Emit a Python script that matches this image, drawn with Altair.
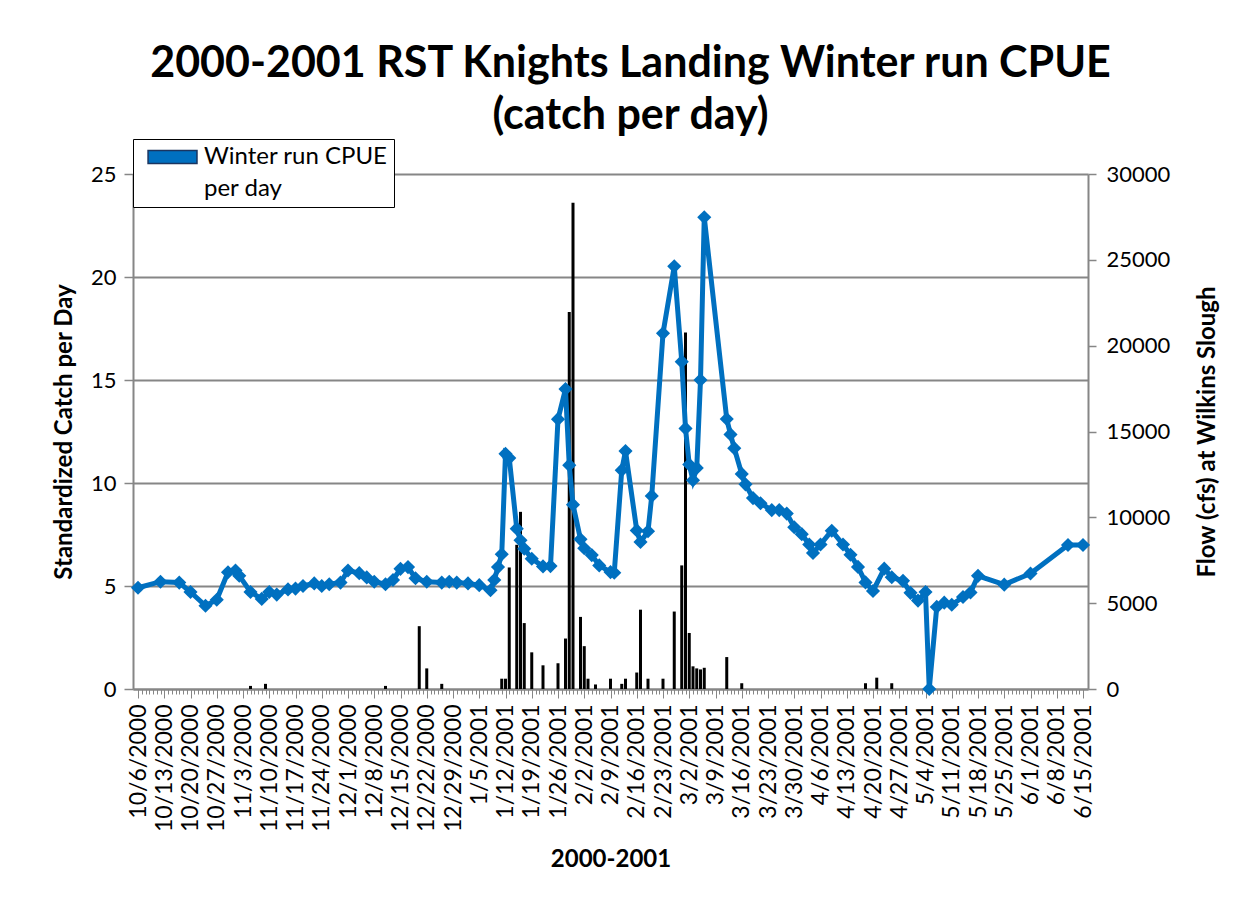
import json
import altair as alt
import pandas as pd

# ---------------- data ----------------
start_date = "10/6/2000"

tick_labels = [
    "10/6/2000", "10/13/2000", "10/20/2000", "10/27/2000", "11/3/2000", "11/10/2000",
    "11/17/2000", "11/24/2000", "12/1/2000", "12/8/2000", "12/15/2000", "12/22/2000",
    "12/29/2000", "1/5/2001", "1/12/2001", "1/19/2001", "1/26/2001", "2/2/2001",
    "2/9/2001", "2/16/2001", "2/23/2001", "3/2/2001", "3/9/2001", "3/16/2001",
    "3/23/2001", "3/30/2001", "4/6/2001", "4/13/2001", "4/20/2001", "4/27/2001",
    "5/4/2001", "5/11/2001", "5/18/2001", "5/25/2001", "6/1/2001", "6/8/2001",
    "6/15/2001",
]

cpue_dates = [
    "11/5/2000", "11/9/2000", "12/11/2000", "12/20/2000", "12/22/2000", "12/26/2000",
    "1/11/2001", "1/12/2001", "1/13/2001", "1/15/2001", "1/16/2001", "1/17/2001",
    "1/19/2001", "1/22/2001", "1/26/2001", "1/28/2001", "1/29/2001", "1/30/2001",
    "2/1/2001", "2/2/2001", "2/3/2001", "2/5/2001", "2/9/2001", "2/12/2001",
    "2/13/2001", "2/16/2001", "2/17/2001", "2/19/2001", "2/23/2001", "2/26/2001",
    "2/28/2001", "3/1/2001", "3/2/2001", "3/3/2001", "3/4/2001", "3/5/2001",
    "3/6/2001", "3/12/2001", "3/16/2001", "4/18/2001", "4/21/2001", "4/25/2001",
]
cpue_values = [
    0.15, 0.25, 0.15, 3.05, 1.0, 0.25,
    0.5, 0.5, 5.9, 7.0, 8.6, 3.2,
    1.78, 1.15, 1.25, 2.45, 18.3, 23.6,
    3.5, 2.08, 0.5, 0.22, 0.5, 0.25,
    0.5, 0.8, 3.85, 0.5, 0.5, 3.76,
    6.0, 17.3, 2.72, 1.1, 1.0, 0.95,
    1.03, 1.55, 0.28, 0.28, 0.55, 0.28,
]

flow_dates = [
    "10/6/2000", "10/12/2000", "10/17/2000", "10/20/2000", "10/24/2000", "10/27/2000",
    "10/30/2000", "11/1/2000", "11/2/2000", "11/5/2000", "11/8/2000", "11/10/2000",
    "11/12/2000", "11/15/2000", "11/17/2000", "11/19/2000", "11/22/2000", "11/24/2000",
    "11/26/2000", "11/29/2000", "12/1/2000", "12/4/2000", "12/6/2000", "12/8/2000",
    "12/11/2000", "12/13/2000", "12/15/2000", "12/17/2000", "12/19/2000", "12/22/2000",
    "12/26/2000", "12/28/2000", "12/30/2000", "1/2/2001", "1/5/2001", "1/8/2001",
    "1/9/2001", "1/10/2001", "1/11/2001", "1/12/2001", "1/13/2001", "1/15/2001",
    "1/16/2001", "1/17/2001", "1/19/2001", "1/22/2001", "1/24/2001", "1/26/2001",
    "1/28/2001", "1/29/2001", "1/30/2001", "2/1/2001", "2/2/2001", "2/4/2001",
    "2/6/2001", "2/9/2001", "2/10/2001", "2/12/2001", "2/13/2001", "2/16/2001",
    "2/17/2001", "2/19/2001", "2/20/2001", "2/23/2001", "2/26/2001", "2/28/2001",
    "3/1/2001", "3/2/2001", "3/3/2001", "3/4/2001", "3/5/2001", "3/6/2001",
    "3/12/2001", "3/13/2001", "3/14/2001", "3/16/2001", "3/17/2001", "3/19/2001",
    "3/21/2001", "3/24/2001", "3/26/2001", "3/28/2001", "3/30/2001", "4/1/2001",
    "4/3/2001", "4/4/2001", "4/6/2001", "4/9/2001", "4/12/2001", "4/14/2001",
    "4/16/2001", "4/18/2001", "4/20/2001", "4/23/2001", "4/25/2001", "4/28/2001",
    "4/30/2001", "5/2/2001", "5/4/2001", "5/5/2001", "5/7/2001", "5/9/2001",
    "5/11/2001", "5/14/2001", "5/16/2001", "5/18/2001", "5/25/2001", "6/1/2001",
    "6/11/2001", "6/15/2001",
]
flow_values = [
    5900, 6250, 6200, 5650, 4850, 5200,
    6800, 6900, 6600, 5650, 5250, 5650,
    5500, 5800, 5850, 6000, 6150, 6000,
    6100, 6200, 6900, 6750, 6500, 6250,
    6100, 6350, 7000, 7100, 6450, 6250,
    6200, 6250, 6200, 6150, 6050, 5750,
    6350, 7100, 7850, 13700, 13450, 9340,
    8660, 8170, 7590, 7140, 7160, 15720,
    17470, 13040, 10740, 8720, 8200, 7800,
    7200, 6810, 6770, 12750, 13860, 9240,
    8560, 9190, 11250, 20720, 24620, 19070,
    15180, 13080, 12160, 12880, 18000, 27480,
    15730, 14830, 14030, 12530, 11920, 11120,
    10820, 10420, 10420, 10220, 9420, 9020,
    8420, 7920, 8420, 9220, 8420, 7820,
    7110, 6210, 5710, 7010, 6510, 6300,
    5600, 5150, 5650, 0, 4780, 5030,
    4910, 5360, 5620, 6590, 6080, 6730,
    8390, 8390,
]

# legend text of the reference, wrapped over two lines
legend_lines = ["Winter run CPUE", "per day"]

title_lines = ["2000-2001 RST Knights Landing Winter run CPUE", "(catch per day)"]
x_title = "2000-2001"
y_left_title = "Standardized Catch per Day"
y_right_title = "Flow (cfs) at Wilkins Slough"

# ---------------- tables ----------------
t0 = pd.to_datetime(start_date, format="%m/%d/%Y")


def day_index(dates):
    return [(d - t0).days for d in pd.to_datetime(dates, format="%m/%d/%Y")]


tick_days = day_index(tick_labels)
last_day = tick_days[-1]
all_days = list(range(0, last_day + 1))

cpue_df = pd.DataFrame({"day": day_index(cpue_dates), "cpue": cpue_values})
flow_df = pd.DataFrame(
    {"day": day_index(flow_dates), "flow": flow_values, "series": legend_lines[0]}
)

FONT = "Lato"
GRAY = "#868686"
BLUE = "#0070C0"

label_expr = (
    f"indexof({json.dumps(tick_days)}, datum.value) >= 0 ? "
    f"{json.dumps(tick_labels)}[indexof({json.dumps(tick_days)}, datum.value)] : ''"
)
major_test = f"indexof({json.dumps(tick_days)}, datum.value) >= 0"

x_enc = alt.X(
    "day:Q",
    scale=alt.Scale(domain=[0, last_day], nice=False, zero=False),
    axis=alt.Axis(
        values=all_days,
        labelExpr=label_expr,
        labelAngle=270,
        labelFontSize=23,
        labelColor="black",
        labelOverlap=False,
        labelFlush=False,
        labelPadding=6,
        tickSize={"condition": {"test": major_test, "value": 9}, "value": 5},
        tickColor=GRAY,
        tickWidth=1,
        domainColor=GRAY,
        domainWidth=2,
        grid=False,
        title=x_title,
        titleFontSize=24,
        titleFontWeight="bold",
        titleColor="black",
        titlePadding=16,
        orient="bottom",
    ),
)

bars = alt.Chart(cpue_df).mark_bar(color="black", size=3).encode(
    x=x_enc,
    y=alt.Y(
        "cpue:Q",
        scale=alt.Scale(domain=[0, 25], nice=False),
        axis=alt.Axis(
            orient="left",
            values=[0, 5, 10, 15, 20, 25],
            labelFontSize=22,
            labelColor="black",
            labelPadding=8,
            tickSize=9,
            tickColor=GRAY,
            tickWidth=1.5,
            domainColor=GRAY,
            domainWidth=2,
            grid=True,
            gridColor=GRAY,
            gridWidth=1.8,
            title=y_left_title,
            titleFontSize=24,
            titleFontWeight="bold",
            titleColor="black",
            titlePadding=14,
        ),
    ),
)

flow_y = alt.Y(
    "flow:Q",
    scale=alt.Scale(domain=[0, 30000], nice=False),
    axis=alt.Axis(
        orient="right",
        values=[0, 5000, 10000, 15000, 20000, 25000, 30000],
        format="d",
        labelFontSize=22,
        labelColor="black",
        labelPadding=10,
        tickSize=8,
        tickColor=GRAY,
        tickWidth=1.5,
        domainColor=GRAY,
        domainWidth=2,
        grid=False,
        title=y_right_title,
        titleFontSize=24,
        titleFontWeight="bold",
        titleColor="black",
        titleAngle=270,
        titleBaseline="top",
        titlePadding=26,
    ),
)

line = alt.Chart(flow_df).mark_line(color=BLUE, strokeWidth=5).encode(
    x=x_enc,
    y=flow_y,
)

legend_def = alt.Legend(
    title=None,
    orient="none",
    legendX=0,
    legendY=-35,
    direction="vertical",
    symbolType="M-0.42,-0.93H6.57V0.93H-0.42Z",
    symbolSize=196,
    symbolStrokeColor="#1A3560",
    symbolStrokeWidth=1.5,
    labelFontSize=24,
    labelColor="black",
    labelOffset=41,
    labelLimit=400,
    labelBaseline="middle",
    rowPadding=8,
    strokeColor="black",
    fillColor="white",
    padding=6,
    cornerRadius=0,
)

points = alt.Chart(flow_df).mark_point(
    shape="diamond", filled=True, size=200, strokeWidth=0
).encode(
    x=x_enc,
    y=flow_y,
    fill=alt.Fill(
        "series:N",
        scale=alt.Scale(domain=legend_lines, range=[BLUE, "white"]),
        legend=legend_def,
    ),
    opacity=alt.Opacity(
        "series:N",
        scale=alt.Scale(domain=legend_lines, range=[1, 0]),
        legend=legend_def,
    ),
)

flow_layer = alt.layer(line, points)

chart = (
    alt.layer(bars, flow_layer)
    .resolve_scale(y="independent")
    .properties(
        width=955,
        height=515,
        padding={"left": 44, "top": 34, "right": 10, "bottom": 10},
        title=alt.TitleParams(
            text=title_lines,
            fontSize=43,
            font=FONT,
            fontWeight="bold",
            color="black",
            anchor="middle",
            lineHeight=52,
            offset=1,
            dx=20,
        ),
    )
    .configure(font=FONT, background="white")
    .configure_view(stroke=None)
)

chart.save("out.html", embed_options={"renderer": "svg", "actions": False})
